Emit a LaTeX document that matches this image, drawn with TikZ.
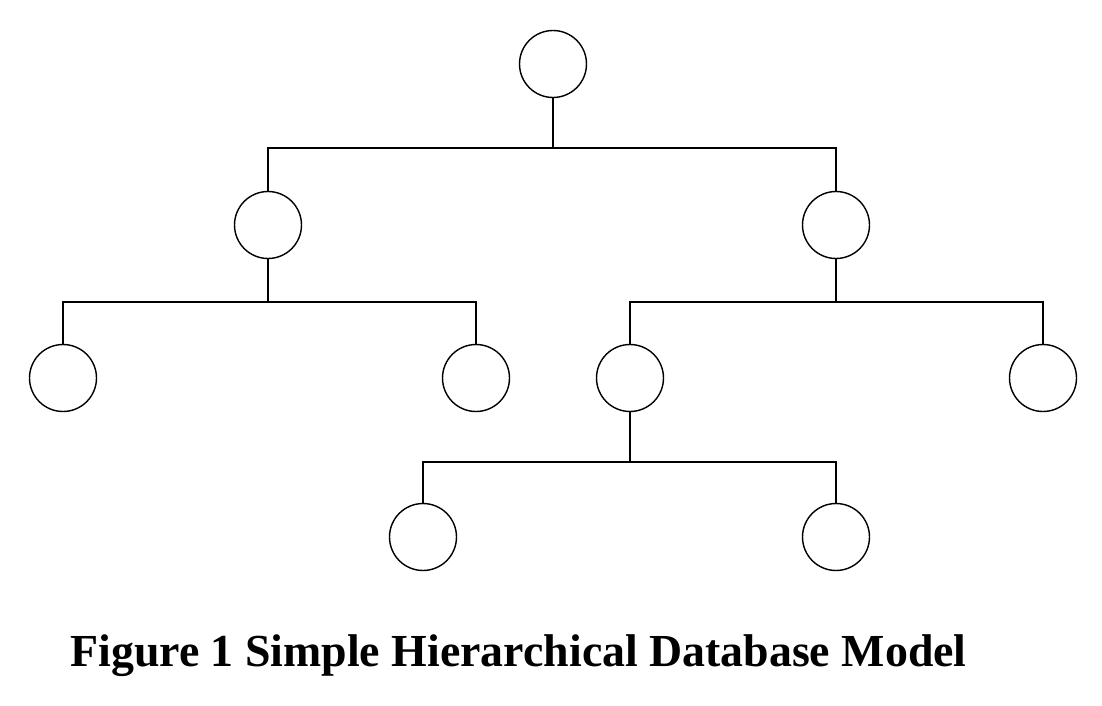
\documentclass[tikz,border=0pt]{standalone}
\usepackage{fontspec}
\setmainfont{Liberation Serif}
\usetikzlibrary{positioning}

\tikzset{
  rec/.style={circle, draw, thick, minimum size=1.34cm, inner sep=0pt},
  link/.style={thick},
}

\begin{document}
\begin{tikzpicture}[x=0.02cm, y=-0.02cm]
\useasboundingbox (0,0) rectangle (1102,706);
% records
\node [rec] (root) at (553,64) {};
\node [rec] (a) at (268,225) {};
\node [rec] (b) at (836,225) {};
\node [rec] (aa) at (63,378) {};
\node [rec] (ab) at (476,378) {};
\node [rec] (ba) at (630,378) {};
\node [rec] (bb) at (1043,378) {};
\node [rec] (baa) at (423,537) {};
\node [rec] (bab) at (836,537) {};
% joints on the bars
\coordinate (j0) at (553,148);
\coordinate (j1) at (268,302);
\coordinate (j2) at (836,302);
\coordinate (j3) at (630,462);
% links
\draw [link] (root) -- (j0);
\draw [link] (j0) -| (a);
\draw [link] (j0) -| (b);
\draw [link] (a) -- (j1);
\draw [link] (j1) -| (aa);
\draw [link] (j1) -| (ab);
\draw [link] (b) -- (j2);
\draw [link] (j2) -| (ba);
\draw [link] (j2) -| (bb);
\draw [link] (ba) -- (j3);
\draw [link] (j3) -| (baa);
\draw [link] (j3) -| (bab);
% caption
\node [anchor=base west, inner sep=0pt, font=\fontsize{26.1}{31}\selectfont\bfseries] (cap) at (70,666)
  {Figure 1 Simple Hierarchical Database Model};
\end{tikzpicture}
\end{document}
